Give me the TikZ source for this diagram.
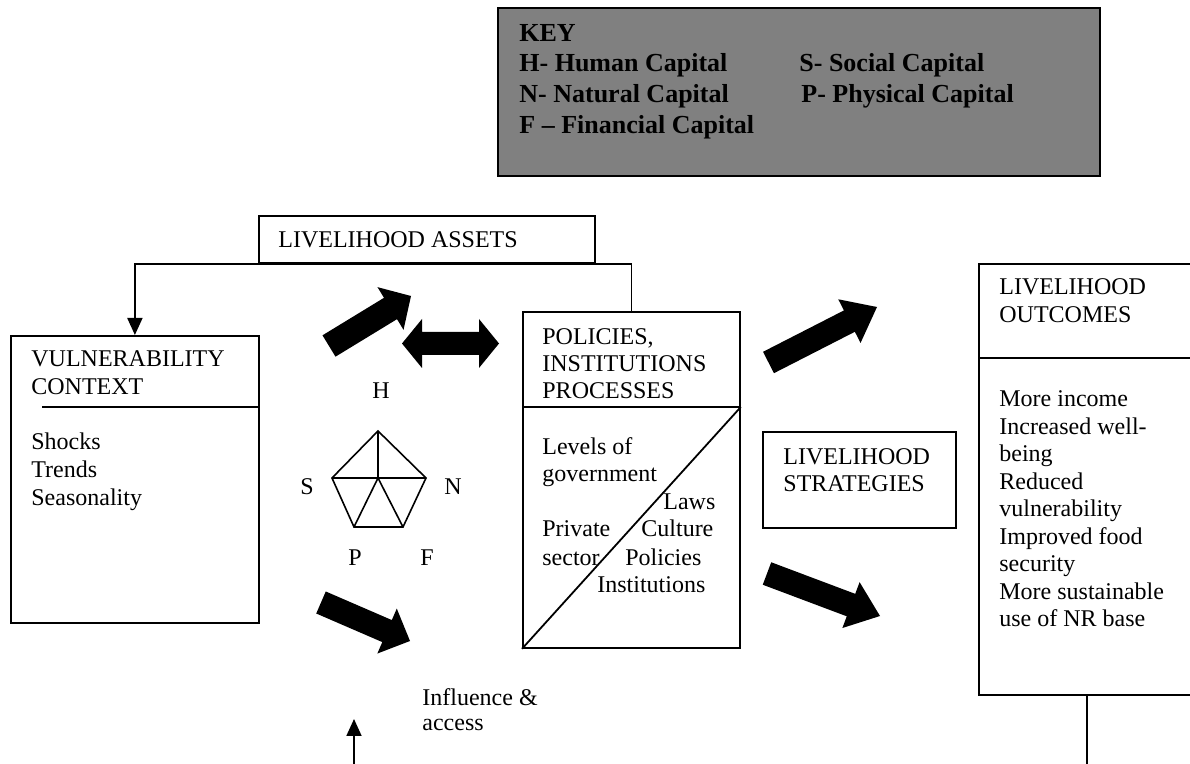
\documentclass[tikz,border=0pt]{standalone}
\usepackage{fontspec}
\setmainfont{Liberation Serif}
\usetikzlibrary{arrows.meta,calc}
\definecolor{keygray}{RGB}{128,128,128}

% several left-aligned lines; the node's baseline is that of the first line
\newcommand\stacklines[2]{\vtop{\baselineskip=#1\lineskiplimit=-\maxdimen\lineskip=0pt\halign{##\hfil\cr#2\crcr}}}

% solid block arrow: tail, tip, shaft half-width, head half-width, head length
\newcommand\blockarrow[5]{%
  \coordinate (ba-h) at ($(#2)!#5!(#1)$);
  \fill ($(#1)!#3!90:(#2)$) -- ($(ba-h)!#3!90:(#2)$) -- ($(ba-h)!#4!90:(#2)$) -- (#2)
     -- ($(ba-h)!#4!-90:(#2)$) -- ($(ba-h)!#3!-90:(#2)$) -- ($(#1)!#3!-90:(#2)$) -- cycle;
}
% solid block arrow with a head at both ends
\newcommand\twinarrow[5]{%
  \coordinate (ta-a) at ($(#1)!#5!(#2)$);
  \coordinate (ta-b) at ($(#2)!#5!(#1)$);
  \fill (#1) -- ($(ta-a)!#4!90:(#2)$) -- ($(ta-a)!#3!90:(#2)$) -- ($(ta-b)!#3!-90:(#1)$)
     -- ($(ta-b)!#4!-90:(#1)$) -- (#2) -- ($(ta-b)!#4!90:(#1)$) -- ($(ta-b)!#3!90:(#1)$)
     -- ($(ta-a)!#3!-90:(#2)$) -- ($(ta-a)!#4!-90:(#2)$) -- cycle;
}

\tikzset{
  frame/.style={draw, line width=0.9pt, inner sep=0pt, anchor=north west},
  link/.style={line width=0.9pt},
  tipped/.style={-{Triangle[length=8.5pt,width=7.5pt]}},
  txt/.style={anchor=base west, inner sep=0pt, font=\fontsize{12pt}{13.8pt}\selectfont},
  lbl/.style={anchor=base, inner sep=0pt, font=\fontsize{12pt}{13.8pt}\selectfont},
  keytxt/.style={anchor=base west, inner sep=0pt, font=\fontsize{13pt}{15.3pt}\selectfont\bfseries},
}

\begin{document}
\begin{tikzpicture}[x=0.5pt,y=-0.5pt]
\useasboundingbox (0,0) rectangle (1190,764);
\clip (0,0) rectangle (1190,764);
\fill[white] (0,0) rectangle (1190,764);

% key
\node[frame, fill=keygray, line width=1.2pt, minimum width=301pt, minimum height=84pt] (key) at (497,7) {};
\node[keytxt] (k0) at (519,42) {KEY};
\node[keytxt] (k1) at (519,72) {H- Human Capital};
\node[keytxt] (k2) at (519,103) {N- Natural Capital};
\node[keytxt] (k3) at (519,134) {F – Financial Capital};
\node[keytxt] (k4) at (799,72) {S- Social Capital};
\node[keytxt] (k5) at (801,103) {P- Physical Capital};

% boxes
\node[frame, minimum width=168pt, minimum height=23.5pt] (assets) at (258,215) {};
\node[txt] (assets-t) at (278,248) {LIVELIHOOD ASSETS};

\node[frame, minimum width=124pt, minimum height=143.5pt] (vuln) at (10,335) {};
\coordinate (vdiv) at (42,407);
\draw[link] (vdiv) -- (vdiv -| vuln.east);
\node[txt] (vuln-t) at (31,367) {\stacklines{14pt}{VULNERABILITY\cr CONTEXT}};
\node[txt] (vuln-l) at (31,450) {\stacklines{14pt}{Shocks\cr Trends\cr Seasonality}};

\node[frame, minimum width=108.5pt, minimum height=168pt] (policies) at (522,311) {};
\coordinate (pdiv) at (522,407);
\draw[link] (pdiv) -- (pdiv -| policies.east);
\draw[link] (policies.south west) -- (pdiv -| policies.east);
\node[txt] (pol-t) at (542,345) {\stacklines{13.3pt}{POLICIES,\cr INSTITUTIONS\cr PROCESSES}};
\node[txt] (pol-a) at (542,455) {Levels of};
\node[txt] (pol-b) at (542,482) {government};
\node[txt] (pol-c) at (663,510) {Laws};
\node[txt] (pol-d) at (542,537) {Private};
\node[txt] (pol-e) at (641,537) {Culture};
\node[txt] (pol-f) at (542,566) {sector};
\node[txt] (pol-g) at (625,566) {Policies};
\node[txt] (pol-h) at (597,593) {Institutions};

\node[frame, minimum width=96.5pt, minimum height=48pt] (strat) at (762,431) {};
\node[txt] (strat-t) at (783,465) {\stacklines{13.5pt}{LIVELIHOOD\cr STRATEGIES}};

\node[frame, minimum width=108pt, minimum height=215.5pt] (outc) at (978,263) {};
\coordinate (odiv) at (978,358);
\draw[link] (odiv) -- (odiv -| outc.east);
\node[txt] (outc-t) at (999,295) {\stacklines{14pt}{LIVELIHOOD\cr OUTCOMES}};
\node[txt] (outc-l) at (999,407) {\stacklines{13.75pt}{More income\cr Increased well-\cr being\cr Reduced\cr vulnerability\cr Improved food\cr security\cr More sustainable\cr use of NR base}};

\node[txt] (infl) at (422,705) {\stacklines{13pt}{Influence \&\cr access}};

% asset pentagon
\coordinate (pt) at (378,431);
\coordinate (pl) at (332,478);
\coordinate (pr) at (426,478);
\coordinate (pbl) at (354,527);
\coordinate (pbr) at (403,527);
\coordinate (pc) at (378,478);
\draw[line width=0.8pt, line join=miter] (pt) -- (pr) -- (pbr) -- (pbl) -- (pl) -- cycle;
\draw[line width=0.8pt] (pt) -- (pc) (pl) -- (pr) (pbl) -- (pc) -- (pbr);
\node[lbl] (lh) at (381,399) {H};
\node[lbl] (ls) at (307,495) {S};
\node[lbl] (ln) at (453,495) {N};
\node[lbl] (lp) at (355,566) {P};
\node[lbl] (lf) at (427,566) {F};

% connectors
\draw[link, tipped] (assets.south) -| (vuln.north);
\draw[link] (assets.south) -| (policies.north);
\coordinate (floor) at (0,770);
\draw[link] (outc.south) -- (outc.south |- floor);
\coordinate (ia-foot) at (354,770);
\coordinate (ia-tip) at (354,719);
\draw[link, tipped] (ia-foot) -- (ia-tip);

% block arrows
\coordinate (a1t) at (329,346);   \coordinate (a1h) at (411,296);
\coordinate (a2t) at (321,602.5); \coordinate (a2h) at (410,641);
\coordinate (a3t) at (768.5,362.5); \coordinate (a3h) at (877,307);
\coordinate (a4t) at (767,573.5); \coordinate (a4h) at (880,616);
\coordinate (dl) at (402,343.5);  \coordinate (dr) at (499,343.5);
\blockarrow{a1t}{a1h}{6.25pt}{12.5pt}{12pt}
\blockarrow{a2t}{a2h}{6pt}{12.25pt}{12.5pt}
\blockarrow{a3t}{a3h}{6pt}{12.25pt}{15.5pt}
\blockarrow{a4t}{a4h}{6pt}{12.25pt}{15.5pt}
\twinarrow{dl}{dr}{5.75pt}{12.25pt}{10pt}
\end{tikzpicture}
\end{document}
